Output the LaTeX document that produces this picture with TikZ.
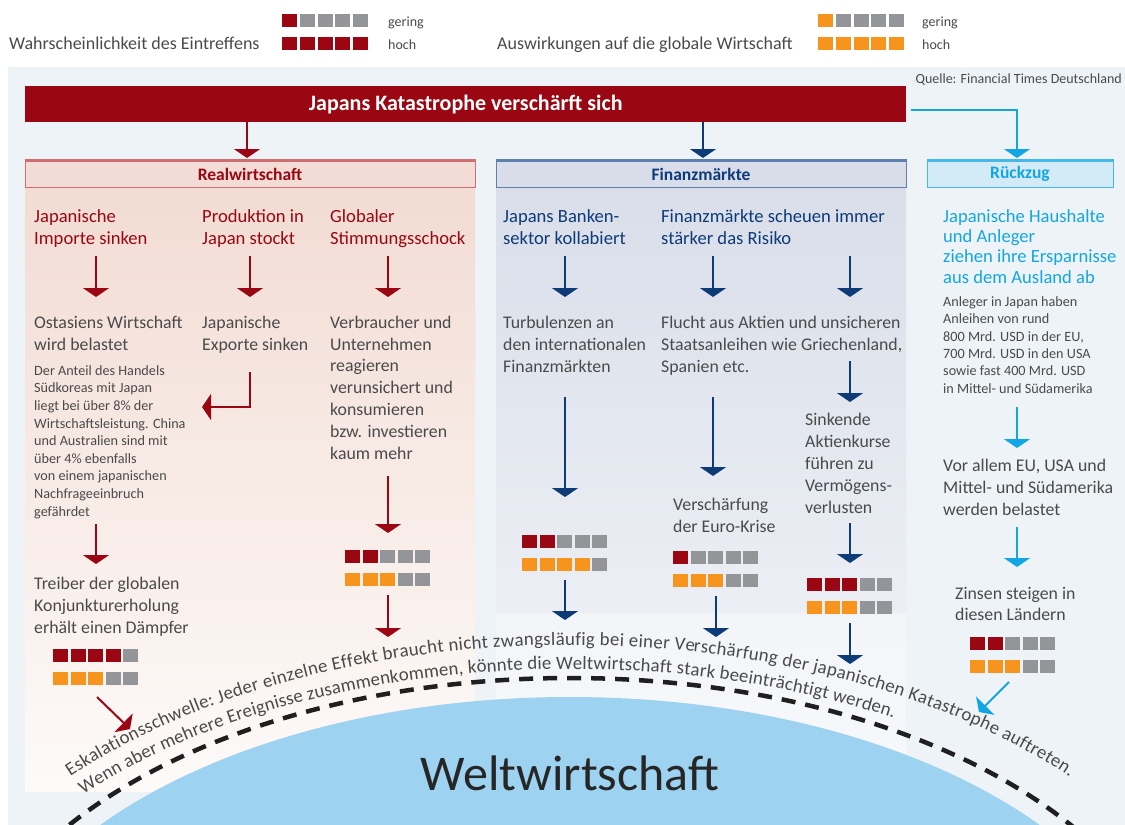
\documentclass[tikz,border=0pt]{standalone}
\usepackage{fontspec}
\setmainfont{Carlito}
\usetikzlibrary{arrows.meta,decorations.text,calc}

\definecolor{jred}{HTML}{9A0712}
\definecolor{jorange}{HTML}{F7941D}
\definecolor{sqgrey}{HTML}{939598}
\definecolor{navy}{HTML}{0D3B78}
\definecolor{cyanblue}{HTML}{12A7E2}
\definecolor{txtgrey}{HTML}{4A4A4A}
\definecolor{panelbg}{HTML}{EEF3F7}
\definecolor{domeblue}{HTML}{9DD3F0}
\definecolor{realtop}{HTML}{F2DCD3}
\definecolor{realbot}{HTML}{FDFAF9}
\definecolor{fintop}{HTML}{D9DEE9}
\definecolor{finbot}{HTML}{F2F4F8}
\definecolor{realfill}{HTML}{F3DCD5}
\definecolor{realline}{HTML}{CE6E6F}
\definecolor{finfill}{HTML}{D8DDE9}
\definecolor{finline}{HTML}{5F80AE}
\definecolor{rzfill}{HTML}{D3EAF7}
\definecolor{rzline}{HTML}{45B8E9}

% note: for several lines, base anchor = baseline of the LAST line
\tikzset{
  body/.style={anchor=base west, align=left, inner sep=0pt, text=txtgrey,
               font=\fontsize{17.8}{21.8}\selectfont},
  small/.style={body, font=\fontsize{14.2}{17.6}\selectfont},
  redhead/.style={body, text=jred, font=\fontsize{18.6}{21.8}\selectfont},
  navyhead/.style={body, text=navy, font=\fontsize{18.6}{21.8}\selectfont},
  cyanhead/.style={body, text=cyanblue, font=\fontsize{18.6}{20.2}\selectfont},
  legtext/.style={anchor=base west, inner sep=0pt, text=txtgrey},
  hdrbox/.style={minimum width=#1, minimum height=26pt, inner sep=0pt, line width=1pt,
                 font=\bfseries\fontsize{17.5}{17.5}\selectfont},
  redarrow/.style={draw=jred, line width=2pt, -{Triangle[width=26pt,length=9pt]}},
  navyarrow/.style={draw=navy, line width=2pt, -{Triangle[width=26pt,length=9pt]}},
  cyanarrow/.style={draw=cyanblue, line width=2pt, -{Triangle[width=26pt,length=9pt]}},
}

% two rows of five squares: probability (red) and impact (orange)
\newcommand{\ratingbar}[4]{% #1 x, #2 y (top, downwards), #3 red, #4 orange
  \foreach \k in {1,...,5}{%
    \ifnum\k>#3 \def\colA{sqgrey}\else\def\colA{jred}\fi
    \ifnum\k>#4 \def\colB{sqgrey}\else\def\colB{jorange}\fi
    \fill[\colA] ({#1+(\k-1)*\sqp},{-#2}) rectangle ++(\sqw,-\sqh);
    \fill[\colB] ({#1+(\k-1)*\sqp},{-#2-23}) rectangle ++(\sqw,-\sqh);
  }}

% vertical arrow between two named coordinates
\newcommand{\varrow}[5]{% style, name, x, y from, y to
  \coordinate (#2s) at (#3,-#4);
  \coordinate (#2e) at (#3,-#5);
  \draw[#1] (#2s) -- (#2e);}

\begin{document}
\begin{tikzpicture}[x=1pt,y=1pt]
  \def\sqw{15}                                % square width
  \def\sqh{12.5}                              % square height
  \def\sqp{17.5}                              % square pitch

  \useasboundingbox (0,0) rectangle (1125,-825);
  \clip (0,0) rectangle (1125,-825);
  \fill[white] (0,0) rectangle (1125,-825);

  % Legend
  \node[legtext, font=\fontsize{18}{20}\selectfont] (lgP) at (9,-49) {Wahrscheinlichkeit des Eintreffens};
  \node[legtext, font=\fontsize{18}{20}\selectfont] (lgA) at (497,-49) {Auswirkungen auf die globale Wirtschaft};
  \foreach \k in {1,...,5}{%
    \ifnum\k>1 \def\colA{sqgrey}\def\colB{sqgrey}\else\def\colA{jred}\def\colB{jorange}\fi
    \fill[\colA] ({282+(\k-1)*17.8},-14) rectangle ++(15,-13);
    \fill[jred] ({282+(\k-1)*17.8},-37) rectangle ++(15,-13);
    \fill[\colB] ({818+(\k-1)*17.8},-14) rectangle ++(15,-13);
    \fill[jorange] ({818+(\k-1)*17.8},-37) rectangle ++(15,-13);
  }
  \node[legtext, font=\fontsize{14}{16}\selectfont] (lgPlo) at (388,-26) {gering};
  \node[legtext, font=\fontsize{14}{16}\selectfont] (lgPhi) at (388,-49) {hoch};
  \node[legtext, font=\fontsize{14}{16}\selectfont] (lgAlo) at (922,-26) {gering};
  \node[legtext, font=\fontsize{14}{16}\selectfont] (lgAhi) at (922,-49) {hoch};

  % Panels
  \fill[panelbg] (8,-67) rectangle (1125,-825);
  \shade[top color=realtop, bottom color=realbot] (25,-187) rectangle (475,-791);
  \shade[top color=fintop, bottom color=finbot] (496,-187) rectangle (906,-758);
  \fill[white, opacity=0.4] (496,-613) rectangle (906,-758);

  \node[legtext, anchor=base east, font=\fontsize{14}{15}\selectfont] (src) at (1122,-83) {Quelle: Financial Times Deutschland};

  % Title bar and column headers
  \node[fill=jred, text=white, minimum width=881pt, minimum height=36pt, inner sep=0pt,
        anchor=north west, font=\bfseries\fontsize{22}{22}\selectfont] (title) at (25,-86)
        {Japans Katastrophe verschärft sich};
  \node[hdrbox=450pt, fill=realfill, draw=realline, text=jred] (hreal) at (250,-174) {Realwirtschaft};
  \node[hdrbox=410pt, fill=finfill, draw=finline, text=navy] (hfin) at (701,-174) {Finanzmärkte};
  \node[hdrbox=186pt, fill=rzfill, draw=rzline, text=cyanblue] (hrz) at (1020,-174) {Rückzug};
  \draw[realline, line width=2.2pt] (hreal.north west) -- (hreal.north east);
  \draw[finline, line width=2.2pt] (hfin.north west) -- (hfin.north east);
  \draw[rzline, line width=2.2pt] (hrz.north west) -- (hrz.north east);

  \coordinate (tR) at (247,-158);
  \coordinate (tF) at (703,-158);
  \coordinate (tZs) at (911,-110);
  \coordinate (tZ) at (1017,-158);
  \draw[redarrow] (title.south -| tR) -- (tR);
  \draw[navyarrow] (title.south -| tF) -- (tF);
  \draw[cyanarrow] (tZs) -| (tZ);

  % World economy dome and escalation threshold
  \coordinate (domec) at (570,-1027);
  \fill[domeblue] (domec) ellipse [x radius=594, y radius=330];
  \draw[black!88, line width=4.5pt, dash pattern=on 14pt off 10pt]
       (domec) ++(180:614 and 349) arc [start angle=180, end angle=0, x radius=614, y radius=349];
  \path[decorate, decoration={text along path, text color=txtgrey,
        text align={fit to path},
        text={|\fontsize{18.8}{18.8}\selectfont|Eskalationsschwelle: Jeder einzelne Effekt braucht nicht zwangsläufig bei einer Verschärfung der japanischen Katastrophe auftreten.}}]
       (domec) ++(139.1:661 and 382) arc [start angle=139.1, end angle=40.9, x radius=661, y radius=382];
  \path[decorate, decoration={text along path, text color=txtgrey,
        text align={fit to path},
        text={|\fontsize{18.8}{18.8}\selectfont|Wenn aber mehrere Ereignisse zusammenkommen, könnte die Weltwirtschaft stark beeinträchtigt werden.}}]
       (domec) ++(139.5:640 and 358) arc [start angle=139.5, end angle=59.8, x radius=640, y radius=358];
  \node[anchor=base, inner sep=0pt, text=black!85, font=\fontsize{50}{50}\selectfont] (welt) at (570,-790) {Weltwirtschaft};

  % Realwirtschaft
  \node[redhead] (imp) at (34,-244) {Japanische\\Importe sinken};
  \node[redhead] (prod) at (202,-244) {Produktion in\\Japan stockt};
  \node[redhead] (stim) at (330,-244) {Globaler\\Stimmungsschock};
  \node[body] (ost) at (34,-350) {Ostasiens Wirtschaft\\wird belastet};
  \node[small] (anteil) at (34,-516) {Der Anteil des Handels\\Südkoreas mit Japan\\liegt bei über 8\% der\\Wirtschaftsleistung. China\\und Australien sind mit\\über 4\% ebenfalls\\von einem japanischen\\Nachfrageeinbruch\\gefährdet};
  \node[body] (exp) at (202,-350) {Japanische\\Exporte sinken};
  \node[body] (verb) at (330,-459) {Verbraucher und\\Unternehmen\\reagieren\\verunsichert und\\konsumieren\\bzw. investieren\\kaum mehr};
  \node[body] (treib) at (34,-633) {Treiber der globalen\\Konjunkturerholung\\erhält einen Dämpfer};

  \varrow{redarrow}{ra1}{96}{256}{297}
  \varrow{redarrow}{ra2}{250}{256}{297}
  \varrow{redarrow}{ra3}{388}{256}{297}
  \varrow{redarrow}{ra4}{96}{524}{564}
  \varrow{redarrow}{ra5}{388}{476}{533}
  \varrow{redarrow}{ra6}{388}{595}{637}
  \coordinate (rc1) at (250,-372);
  \coordinate (rc2) at (202,-407);
  \draw[redarrow] (rc1) |- (rc2);
  \coordinate (rd1) at (97,-697);
  \coordinate (rd2) at (130,-729);
  \draw[redarrow] (rd1) -- (rd2);

  \ratingbar{53}{649}{4}{3}
  \ratingbar{345}{550}{2}{3}

  % Finanzmaerkte
  \node[navyhead] (bank) at (503,-244) {Japans Banken-\\sektor kollabiert};
  \node[navyhead] (scheu) at (661,-244) {Finanzmärkte scheuen immer\\stärker das Risiko};
  \node[body] (turb) at (503,-372) {Turbulenzen an\\den internationalen\\Finanzmärkten};
  \node[body] (flucht) at (661,-372) {Flucht aus Aktien und unsicheren\\Staatsanleihen wie Griechenland,\\Spanien etc.};
  \node[body] (sink) at (805,-513) {Sinkende\\Aktienkurse\\führen zu\\Vermögens-\\verlusten};
  \node[body] (euro) at (673,-532) {Verschärfung\\der Euro-Krise};

  \varrow{navyarrow}{na1}{565}{256}{297}
  \varrow{navyarrow}{na2}{713}{256}{297}
  \varrow{navyarrow}{na3}{850}{256}{297}
  \varrow{navyarrow}{na4}{850}{361}{402}
  \varrow{navyarrow}{na5}{565}{397}{497}
  \varrow{navyarrow}{na6}{713}{397}{476}
  \varrow{navyarrow}{na7}{850}{523}{563}
  \varrow{navyarrow}{na8}{565}{580}{620}
  \varrow{navyarrow}{na9}{716}{596}{637}
  \varrow{navyarrow}{na10}{850}{623}{664}

  \ratingbar{522}{535}{2}{4}
  \ratingbar{673}{551}{1}{3}
  \ratingbar{807}{578}{3}{3}

  % Rueckzug
  \node[cyanhead] (haus) at (943,-283) {Japanische Haushalte\\und Anleger\\ziehen ihre Ersparnisse\\aus dem Ausland ab};
  \node[small, font=\fontsize{14.2}{17.3}\selectfont] (anl) at (943,-393) {Anleger in Japan haben\\Anleihen von rund\\800 Mrd. USD in der EU,\\700 Mrd. USD in den USA\\sowie fast 400 Mrd. USD\\in Mittel- und Südamerika};
  \node[body] (vor) at (943,-515) {Vor allem EU, USA und\\Mittel- und Südamerika\\werden belastet};
  \node[body, font=\fontsize{17.8}{20.5}\selectfont] (zins) at (955,-620) {Zinsen steigen in\\diesen Ländern};

  \varrow{cyanarrow}{ca1}{1017}{407}{448}
  \varrow{cyanarrow}{ca2}{1017}{527}{567}
  \coordinate (cd1) at (1009,-682);
  \coordinate (cd2) at (979,-712);
  \draw[cyanarrow] (cd1) -- (cd2);

  \ratingbar{970}{637}{2}{3}
\end{tikzpicture}
\end{document}
